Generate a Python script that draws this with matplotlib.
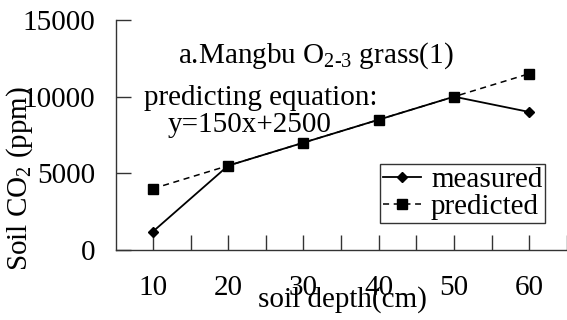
import numpy as np
import matplotlib.pyplot as plt

plt.rcParams['font.family'] = ['Liberation Serif', 'DejaVu Serif']
plt.rcParams['mathtext.fontset'] = 'custom'
plt.rcParams['mathtext.rm'] = 'Liberation Serif'
plt.rcParams['mathtext.it'] = 'Liberation Serif'

# soil depth (cm) and CO2 concentration (ppm)
depth = [10, 20, 30, 40, 50, 60]
measured = [1200, 5500, 7000, 8500, 10000, 9000]
predicted = [4000, 5500, 7000, 8500, 10000, 11500]

FS = 21

fig = plt.figure(figsize=(5.67, 3.2), dpi=100)
ax = fig.add_axes([116 / 567, 70 / 320, 451 / 567, 230 / 320])

ax.plot(depth, measured, color='black', lw=1.3, marker='D', ms=5,
        label='measured')
ax.plot(depth, predicted, color='black', lw=1.1, ls=(0, (4, 3)), marker='s',
        ms=7.5, label='predicted')

ax.set_xlim(5.1, 64.5)
ax.set_ylim(0, 15000)
ax.set_xticks(np.arange(10, 61, 10))
ax.set_xticks(np.arange(15, 66, 10), minor=True)
ax.set_yticks([0, 5000, 10000, 15000])
ax.spines['top'].set_visible(False)
ax.spines['right'].set_visible(False)
for s in ('left', 'bottom'):
    ax.spines[s].set_color('#333333')
    ax.spines[s].set_linewidth(1.0)
ax.tick_params(axis='x', which='both', direction='in', length=11, width=1,
               color='#333333', labelsize=FS, pad=18)
ax.tick_params(axis='y', direction='in', length=11, width=1,
               color='#333333', labelsize=FS, pad=15)

ax.set_xlabel('soil depth(cm)', fontsize=FS)
ax.xaxis.label.set_va('baseline')
ax.xaxis.set_label_coords(0.501, -0.248)
fig.text(20 / 567, 1 - 178 / 320, 'Soil CO$_2$ (ppm)', rotation=90,
         ha='center', va='center', fontsize=FS)

# annotation with the fitted equation
ax.text(31.7, 12200, 'a.Mangbu O$_{\\mathregular{2\u20103}}$ grass(1)',
        ha='center', va='baseline', fontsize=FS)
ax.text(24.3, 9460, 'predicting equation:', ha='center', va='baseline',
        fontsize=FS)
ax.text(22.8, 7700, 'y=150x+2500', ha='center', va='baseline', fontsize=FS)

leg = ax.legend(loc='upper left',
                bbox_to_anchor=((380 - 116) / 451, 1 - (164 - 20) / 230),
                fontsize=FS, frameon=True, fancybox=False, handlelength=1.3,
                handletextpad=0.35, borderpad=0.1, labelspacing=0.0,
                borderaxespad=0)
leg.get_frame().set_edgecolor('black')
leg.get_frame().set_linewidth(1.0)

fig.savefig('out.png', dpi=100)
